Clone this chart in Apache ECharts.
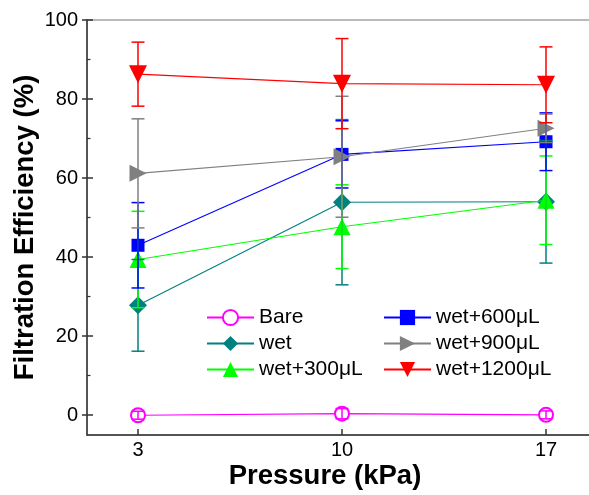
<!DOCTYPE html>
<html>
<head>
<meta charset="utf-8">
<script src="https://cdn.jsdelivr.net/npm/echarts@6/dist/echarts.min.js"></script>
<style>
html,body{margin:0;padding:0;background:#fff;}
#c{width:589px;height:495px;}
</style>
</head>
<body>
<div id="c"></div>
<script>
var pressure = [3, 10, 17];
var seriesNames = ['Bare', 'wet', 'wet+300μL', 'wet+600μL', 'wet+900μL', 'wet+1200μL'];
var bare = [0, 0.4, 0.1];
var bareErr = [1.0, 1.3, 1.0];
var wet = [27.8, 53.9, 54.0];
var wetErr = [11.6, 20.9, 15.5];
var w300 = [39.4, 47.7, 54.4];
var w300Err = [12.2, 10.6, 11.2];
var w600 = [43.0, 66.0, 69.2];
var w600Err = [10.8, 8.5, 7.3];
var w900 = [61.2, 65.4, 72.6];
var w900Err = [13.8, 15.3, 3.6];
var w1200 = [86.3, 83.9, 83.6];
var w1200Err = [8.1, 11.4, 9.6];
var yTicks = [0, 20, 40, 60, 80, 100];
var yMinorTicks = [10, 30, 50, 70, 90];
var xTicks = [3, 10, 17];

var FONT = 'Arial, "Liberation Sans", sans-serif';
var vals = [bare, wet, w300, w600, w900, w1200];
var errs = [bareErr, wetErr, w300Err, w600Err, w900Err, w1200Err];
var colors = ['#ff00ff', '#008080', '#00ff00', '#0000ff', '#808080', '#ff0000'];
var symbols = ['emptyCircle', 'diamond', 'triangle', 'rect', 'triangle', 'triangle'];
var sizes = [14, 18, 17, 13, 17, 18];
var rotates = [0, 0, 0, 0, -90, 180];

function errRender(color) {
  return function (params, api) {
    var x = api.value(0);
    var lo = api.coord([x, api.value(1)]);
    var hi = api.coord([x, api.value(2)]);
    var w = 6.5;
    var st = {stroke: color, lineWidth: 1.5};
    return {
      type: 'group',
      children: [
        {type: 'line', shape: {x1: lo[0], y1: lo[1], x2: hi[0], y2: hi[1]}, style: st},
        {type: 'line', shape: {x1: lo[0] - w, y1: lo[1], x2: lo[0] + w, y2: lo[1]}, style: st},
        {type: 'line', shape: {x1: hi[0] - w, y1: hi[1], x2: hi[0] + w, y2: hi[1]}, style: st}
      ]
    };
  };
}

var series = [];
for (var i = 0; i < 6; i++) {
  series.push({
    type: 'line', name: seriesNames[i],
    data: pressure.map(function (p, j) { return [p, vals[i][j]]; }),
    symbol: symbols[i], symbolSize: sizes[i], symbolRotate: rotates[i],
    showAllSymbol: true,
    lineStyle: {color: colors[i], width: 1.1},
    itemStyle: {color: colors[i], borderColor: colors[i], borderWidth: i === 0 ? 1.5 : 0},
    z: 3 + i
  });
}
for (var k = 0; k < 6; k++) {
  var ed = pressure.map(function (p, j) { return [p, vals[k][j] - errs[k][j], vals[k][j] + errs[k][j]]; });
  series.push({
    type: 'custom', name: seriesNames[k] + '_err', renderItem: errRender(colors[k]),
    data: ed, z: 10 + k, silent: true,
    encode: {x: 0, y: [1, 2]}
  });
}

var legendCommon = {
  orient: 'vertical', itemWidth: 47, itemHeight: 19, itemGap: 5, itemTextGap: 7,
  textStyle: {fontSize: 21, color: '#000', fontFamily: FONT}
};

var option = {
  animation: false,
  backgroundColor: '#fff',
  textStyle: {fontFamily: FONT},
  grid: {left: 87, right: -8, top: 20, bottom: 60, show: true, borderColor: '#777', borderWidth: 1,
         containLabel: false, outerBoundsMode: 'none'},
  legend: [
    Object.assign({}, legendCommon, {data: seriesNames.slice(0, 3), left: 201, top: 302}),
    Object.assign({}, legendCommon, {data: seriesNames.slice(3), left: 378, top: 302})
  ],
  xAxis: {
    type: 'value', min: 1.25, max: 18.75,
    name: 'Pressure (kPa)', nameLocation: 'middle', nameGap: 27, nameMoveOverlap: false,
    nameTextStyle: {fontSize: 27.5, fontWeight: 'bold', color: '#000', fontFamily: FONT, padding: [0, 34, 0, 0]},
    axisLine: {show: true, onZero: false, lineStyle: {color: '#333', width: 1.5}},
    axisTick: {show: true, inside: true, length: 6, customValues: xTicks, lineStyle: {color: '#333', width: 1.5}},
    axisLabel: {customValues: xTicks, fontSize: 20, color: '#000', margin: 5, fontFamily: FONT},
    splitLine: {show: false}
  },
  yAxis: [
    {
      type: 'value', min: -5, max: 100,
      name: 'Filtration Efficiency (%)', nameLocation: 'middle', nameGap: 48, nameMoveOverlap: false,
      nameTextStyle: {fontSize: 27.5, fontWeight: 'bold', color: '#000', fontFamily: FONT},
      axisLine: {show: true, onZero: false, lineStyle: {color: '#333', width: 1.5}},
      axisTick: {show: true, inside: true, length: 6, customValues: yTicks, lineStyle: {color: '#333', width: 1.5}},
      axisLabel: {customValues: yTicks, fontSize: 20, color: '#000', margin: 9, fontFamily: FONT},
      splitLine: {show: false}
    },
    {
      type: 'value', min: -5, max: 100, position: 'left', offset: 0,
      axisLine: {show: false, onZero: false},
      axisTick: {show: true, inside: false, length: 5, customValues: yTicks, lineStyle: {color: '#333', width: 1.5}},
      axisLabel: {show: false, customValues: yTicks},
      splitLine: {show: false}
    },
    {
      type: 'value', min: -5, max: 100, position: 'left', offset: 0,
      axisLine: {show: false, onZero: false},
      axisTick: {show: true, inside: true, length: 3.5, customValues: yMinorTicks, lineStyle: {color: '#333', width: 1.2}},
      axisLabel: {show: false, customValues: yMinorTicks},
      splitLine: {show: false}
    }
  ],
  series: series
};

var chart = echarts.init(document.getElementById('c'), null, {renderer: 'canvas'});
chart.setOption(option);
</script>
</body>
</html>
